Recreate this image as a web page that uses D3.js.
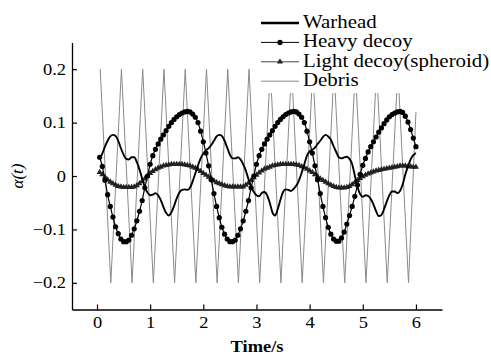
<!DOCTYPE html>
<html>
<head>
<meta charset="utf-8">
<script src="https://cdn.jsdelivr.net/npm/d3@7"></script>
<style>
  body { margin: 0; background: #fff; }
  text { font-family: "Liberation Serif", "Times New Roman", serif; }
</style>
</head>
<body>
<script>
// sample times (s) shared by warhead / heavy decoy / light decoy
const times = [
  0.05, 0.1, 0.15, 0.2, 0.25, 0.3, 0.35, 0.4, 0.45, 0.5, 0.55, 0.6, 0.65, 0.7, 0.75, 0.8, 0.85, 0.9, 0.95, 1,
  1.05, 1.1, 1.15, 1.2, 1.25, 1.3, 1.35, 1.4, 1.45, 1.5, 1.55, 1.6, 1.65, 1.7, 1.75, 1.8, 1.85, 1.9, 1.95, 2,
  2.05, 2.1, 2.15, 2.2, 2.25, 2.3, 2.35, 2.4, 2.45, 2.5, 2.55, 2.6, 2.65, 2.7, 2.75, 2.8, 2.85, 2.9, 2.95, 3,
  3.05, 3.1, 3.15, 3.2, 3.25, 3.3, 3.35, 3.4, 3.45, 3.5, 3.55, 3.6, 3.65, 3.7, 3.75, 3.8, 3.85, 3.9, 3.95, 4,
  4.05, 4.1, 4.15, 4.2, 4.25, 4.3, 4.35, 4.4, 4.45, 4.5, 4.55, 4.6, 4.65, 4.7, 4.75, 4.8, 4.85, 4.9, 4.95, 5,
  5.05, 5.1, 5.15, 5.2, 5.25, 5.3, 5.35, 5.4, 5.45, 5.5, 5.55, 5.6, 5.65, 5.7, 5.75, 5.8, 5.85, 5.9, 5.95, 6
];

const warhead = [
  0.033, 0.042, 0.055, 0.066, 0.074, 0.077, 0.075, 0.066, 0.052, 0.040,
  0.032, 0.031, 0.035, 0.035, 0.026, 0.012, -0.005, -0.021, -0.031, -0.036,
  -0.035, -0.032, -0.036, -0.045, -0.058, -0.069, -0.074, -0.068, -0.056, -0.042,
  -0.031, -0.026, -0.025, -0.026, -0.022, -0.010, 0.005, 0.020, 0.033, 0.042,
  0.048, 0.052, 0.058, 0.066, 0.074, 0.077, 0.075, 0.066, 0.053, 0.040,
  0.033, 0.033, 0.035, 0.031, 0.022, 0.010, -0.006, -0.020, -0.030, -0.036,
  -0.038, -0.032, -0.030, -0.036, -0.050, -0.068, -0.074, -0.062, -0.045, -0.030,
  -0.025, -0.026, -0.028, -0.024, -0.018, -0.008, 0.006, 0.022, 0.038, 0.046,
  0.049, 0.053, 0.060, 0.066, 0.073, 0.077, 0.074, 0.068, 0.056, 0.045,
  0.035, 0.033, 0.035, 0.036, 0.032, 0.022, 0.001, -0.020, -0.034, -0.039,
  -0.036, -0.037, -0.043, -0.053, -0.066, -0.075, -0.073, -0.062, -0.048, -0.036,
  -0.029, -0.029, -0.032, -0.028, -0.016, 0.003, 0.018, 0.031, 0.039, 0.043
];

const heavyDecoy = [
  0.035, 0.018, -0.008, -0.035, -0.057, -0.077, -0.095, -0.108, -0.118, -0.123,
  -0.123, -0.120, -0.111, -0.099, -0.084, -0.066, -0.046, -0.022, 0.000, 0.022,
  0.038, 0.050, 0.060, 0.069, 0.077, 0.085, 0.093, 0.100, 0.106, 0.111,
  0.115, 0.118, 0.120, 0.121, 0.120, 0.116, 0.110, 0.100, 0.084, 0.064,
  0.043, 0.019, -0.007, -0.033, -0.057, -0.078, -0.096, -0.109, -0.118, -0.123,
  -0.123, -0.120, -0.111, -0.099, -0.084, -0.066, -0.046, -0.022, 0.000, 0.022,
  0.038, 0.050, 0.060, 0.069, 0.077, 0.085, 0.093, 0.100, 0.106, 0.111,
  0.115, 0.118, 0.120, 0.121, 0.120, 0.116, 0.110, 0.100, 0.084, 0.064,
  0.043, 0.019, -0.007, -0.033, -0.057, -0.078, -0.096, -0.109, -0.118, -0.122,
  -0.122, -0.116, -0.105, -0.090, -0.074, -0.057, -0.038, -0.017, 0.003, 0.020,
  0.033, 0.045, 0.055, 0.064, 0.073, 0.082, 0.090, 0.098, 0.105, 0.111,
  0.115, 0.118, 0.120, 0.121, 0.119, 0.112, 0.101, 0.087, 0.071, 0.055
];

const lightDecoy = [
  0.007, 0.003, -0.002, -0.007, -0.011, -0.014, -0.017, -0.019, -0.020, -0.021,
  -0.021, -0.021, -0.021, -0.020, -0.018, -0.014, -0.010, -0.005, 0.000, 0.005,
  0.009, 0.012, 0.015, 0.017, 0.019, 0.020, 0.021, 0.022, 0.022, 0.022,
  0.022, 0.022, 0.021, 0.020, 0.019, 0.017, 0.015, 0.012, 0.009, 0.005,
  0.002, -0.002, -0.005, -0.009, -0.012, -0.014, -0.016, -0.018, -0.019, -0.020,
  -0.020, -0.020, -0.020, -0.020, -0.020, -0.017, -0.013, -0.008, -0.003, 0.002,
  0.006, 0.010, 0.013, 0.015, 0.017, 0.019, 0.020, 0.021, 0.022, 0.022,
  0.022, 0.022, 0.022, 0.022, 0.021, 0.020, 0.018, 0.016, 0.013, 0.010,
  0.007, 0.003, -0.001, -0.005, -0.008, -0.011, -0.014, -0.017, -0.019, -0.021,
  -0.022, -0.022, -0.022, -0.021, -0.019, -0.016, -0.012, -0.008, -0.004, -0.001,
  0.002, 0.004, 0.006, 0.008, 0.010, 0.011, 0.012, 0.013, 0.014, 0.015,
  0.016, 0.017, 0.018, 0.019, 0.019, 0.019, 0.018, 0.018, 0.017, 0.017
];

// debris: turning points (peaks / troughs) joined by straight segments
const debrisTimes = [
  0.06, 0.26, 0.46, 0.66, 0.86, 1.06, 1.26, 1.46, 1.66, 1.86,
  2.06, 2.26, 2.46, 2.66, 2.86, 3.06, 3.26, 3.46, 3.66, 3.86,
  4.06, 4.26, 4.46, 4.66, 4.86, 5.06, 5.26, 5.46, 5.66, 5.86, 6.0
];
const debris = [
  0.2, -0.2, 0.2, -0.2, 0.2, -0.2, 0.2, -0.2, 0.2, -0.2,
  0.2, -0.2, 0.2, -0.2, 0.2, -0.2, 0.2, -0.2, 0.2, -0.2,
  0.2, -0.2, 0.2, -0.2, 0.2, -0.2, 0.2, -0.2, 0.2, -0.2, 0.12
];

const xTicks = [0, 1, 2, 3, 4, 5, 6];
const yTicks = [-0.2, -0.1, 0, 0.1, 0.2];
const yTickLabels = ["\u22120.2", "\u22120.1", "0", "0.1", "0.2"];
const legendNames = ["Warhead", "Heavy decoy", "Light decoy(spheroid)", "Debris"];

const width = 491;
const height = 356;
const textStretch = 1.15;

const svg = d3.select("body").append("svg")
    .attr("width", width)
    .attr("height", height);

const x = d3.scaleLinear().domain([-0.47, 6.49]).range([72, 442]);
const y = d3.scaleLinear().domain([-0.25, 0.25]).range([309.5, 42.5]);

const line = (xs, ys, curve) => d3.line()
    .x((d, i) => x(xs[i]))
    .y((d) => y(d))
    .curve(curve || d3.curveLinear)(ys);

// series (debris underneath)
const plot = svg.append("g").attr("class", "values");

plot.append("path")
    .attr("d", line(debrisTimes, debris))
    .attr("fill", "none")
    .attr("stroke", "#8a8a8a")
    .attr("stroke-width", 1);

plot.append("path")
    .attr("d", line(times, lightDecoy, d3.curveMonotoneX))
    .attr("fill", "none")
    .attr("stroke", "#444")
    .attr("stroke-width", 1);

const tri = d3.symbol().type(d3.symbolTriangle).size(16);
plot.append("g").selectAll("path")
    .data(lightDecoy)
    .join("path")
    .attr("transform", (d, i) => `translate(${x(times[i])},${y(d)})`)
    .attr("d", tri)
    .attr("fill", "#222");

plot.append("path")
    .attr("d", line(times, warhead, d3.curveMonotoneX))
    .attr("fill", "none")
    .attr("stroke", "#000")
    .attr("stroke-width", 1.9);

plot.append("path")
    .attr("d", line(times, heavyDecoy, d3.curveMonotoneX))
    .attr("fill", "none")
    .attr("stroke", "#000")
    .attr("stroke-width", 1.2);

plot.append("g").selectAll("circle")
    .data(heavyDecoy)
    .join("circle")
    .attr("cx", (d, i) => x(times[i]))
    .attr("cy", (d) => y(d))
    .attr("r", 2.6)
    .attr("fill", "#000");

// axes
const xAxis = d3.axisBottom(x)
    .tickValues(xTicks)
    .tickFormat(d3.format("d"))
    .tickSizeInner(-5)
    .tickSizeOuter(0)
    .tickPadding(7);

const yAxis = d3.axisLeft(y)
    .tickValues(yTicks)
    .tickFormat((d, i) => yTickLabels[i])
    .tickSizeInner(-5)
    .tickSizeOuter(0)
    .tickPadding(6);

const gx = svg.append("g")
    .attr("class", "xAxis")
    .attr("transform", `translate(0,${y.range()[0]})`)
    .call(xAxis);

const gy = svg.append("g")
    .attr("class", "yAxis")
    .attr("transform", `translate(${x.range()[0]},0)`)
    .call(yAxis);

[gx, gy].forEach((g) => {
    g.select(".domain").attr("stroke", "#000").attr("stroke-width", 1.3);
    g.selectAll(".tick line").attr("stroke", "#000").attr("stroke-width", 1.2);
    g.selectAll(".tick text")
        .attr("fill", "#000")
        .style("font-family", '"Liberation Serif", serif')
        .style("font-size", "16px");
});

gx.selectAll(".tick text").attr("transform", `scale(${textStretch},1)`);
gy.selectAll(".tick text")
    .attr("x", -6 / textStretch)
    .attr("transform", `scale(${textStretch},1)`);

// axis titles
svg.append("text")
    .attr("transform", `translate(257,352) scale(${textStretch},1)`)
    .attr("text-anchor", "middle")
    .style("font-size", "16px")
    .style("font-weight", "bold")
    .text("Time/s");

svg.append("text")
    .attr("transform", "translate(23,176) rotate(-90)")
    .attr("text-anchor", "middle")
    .style("font-size", "17px")
    .style("font-style", "italic")
    .text("\u03b1(t)");

// legend (white box hides the debris peaks underneath)
const legend = svg.append("g").attr("class", "legend");
legend.append("rect")
    .attr("x", 257).attr("y", 3)
    .attr("width", width - 257).attr("height", 90)
    .attr("fill", "#fff");

const legendRows = legendNames.map((name, i) => ({ name, y: 23 + i * 19.4 }));
const rows = legend.selectAll("g.row")
    .data(legendRows)
    .join("g")
    .attr("class", "row")
    .attr("transform", (d) => `translate(261,${d.y})`);

rows.append("line")
    .attr("x1", 0).attr("x2", 38)
    .attr("stroke", (d, i) => (i === 3 ? "#8a8a8a" : i === 2 ? "#444" : "#000"))
    .attr("stroke-width", (d, i) => (i === 0 ? 2.4 : 1));

rows.filter((d, i) => i === 1).append("circle")
    .attr("cx", 19).attr("r", 2.6).attr("fill", "#000");
rows.filter((d, i) => i === 2).append("path")
    .attr("transform", "translate(19,0)")
    .attr("d", d3.symbol().type(d3.symbolTriangle).size(16))
    .attr("fill", "#222");

rows.append("text")
    .attr("transform", `translate(42,5) scale(1.1,1)`)
    .style("font-size", "19px")
    .text((d) => d.name);
</script>
</body>
</html>
